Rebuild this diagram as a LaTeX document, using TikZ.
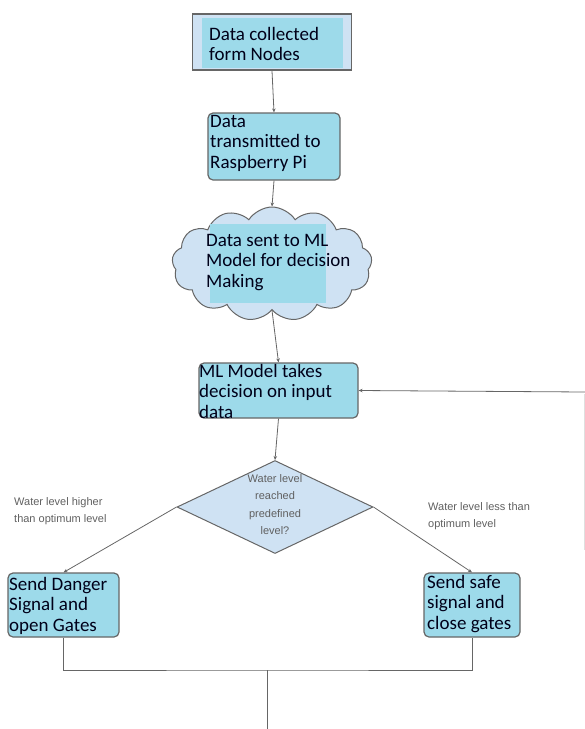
\documentclass[tikz,border=0pt]{standalone}
\usepackage{fontspec}
\setmainfont{Carlito}
\newfontfamily\notefont{Liberation Sans}
\usetikzlibrary{shapes.geometric,shapes.symbols,arrows.meta}
\definecolor{boxcyan}{HTML}{9DDAEA}
\definecolor{palecyan}{HTML}{CFE2F3}
\definecolor{edgegray}{HTML}{666666}

\begin{document}
\begin{tikzpicture}[x=1pt,y=-1pt,
    box/.style={draw=edgegray, line width=1.2pt, fill=boxcyan, rounded corners=5pt, inner sep=0pt},
    txt/.style={anchor=north west, align=left, inner sep=0pt, font=\fontsize{19}{20.5}\selectfont, text=black!90!blue},
    note/.style={anchor=north west, align=left, inner sep=0pt, font=\notefont\fontsize{11}{17.5}\selectfont, text=gray!75!black},
    flow/.style={edgegray, line width=0.8pt},
    tip/.style={flow, -{Stealth[length=4pt,width=3.5pt]}}]
  \useasboundingbox (0,0) rectangle (585,729);

	% Data collected
	\node[draw=edgegray, line width=1.5pt, fill=palecyan, minimum width=159pt, minimum height=56pt, inner sep=0pt] (collect) at (272,42) {};
	\fill[boxcyan] (202,18) rectangle (343,68);
	\node[txt] (collecttxt) at (209,27) {Data collected\\form Nodes};

	% Raspberry Pi
	\node[box, minimum width=132pt, minimum height=67pt] (transmit) at (274,146.5) {};
	\node[txt] (transmittxt) at (210,115) {Data\\transmitted to\\Raspberry Pi};

	% ML cloud
	\node[cloud, cloud puffs=13, cloud puff arc=115, draw=edgegray, line width=1pt, fill=palecyan, minimum width=200pt, minimum height=114pt, inner sep=0pt] (cloud) at (272,264) {};
	\fill[boxcyan] (210,224) rectangle (326,303);
	\node[txt] (cloudtxt) at (206,234) {Data sent to ML\\Model for decision\\Making};

	% ML decision
	\node[box, minimum width=159pt, minimum height=55pt] (mlmodel) at (278.5,390.5) {};
	\node[txt] (mltxt) at (199,364) {ML Model takes\\decision on input\\data};

	% Water level check
	\node[diamond, draw=edgegray, line width=1pt, fill=palecyan, minimum width=196pt, minimum height=93pt, inner sep=0pt] (check) at (275,507) {};
	\node[note, anchor=north, align=center] (checktxt) at (275,474) {Water level\\reached\\predefined\\level?};

	% Branch labels
	\node[note] (hightxt) at (14,497) {Water level higher\\than optimum level};
	\node[note] (lowtxt) at (428,502) {Water level less than\\optimum level};

	% Outcomes
	\node[box, minimum width=111pt, minimum height=64pt] (danger) at (63.5,605) {};
	\node[txt] (dangertxt) at (9,577) {Send Danger\\Signal and\\open Gates};
	\node[box, minimum width=96pt, minimum height=64pt] (safe) at (472,605) {};
	\node[txt] (safetxt) at (427,575) {Send safe\\signal and\\close gates};

	% Connectors
	\draw[tip] (collect.south) -- (transmit.north);
	\draw[tip] (transmit.south) -- (cloud.north);
	\draw[tip] (cloud.south) -- (mlmodel.north);
	\draw[tip] (mlmodel.south) -- (check.north);
	\draw[tip] (check.west) -- (danger.north);
	\draw[tip] (check.east) -- (safe.north);

	% Feedback line
	\coordinate (back) at (585,392);
	\draw[tip] (back) -- (mlmodel.east);
	\draw[gray!25, line width=0.8pt] (584,394) -- (584,550);

	% Merge
	\coordinate (merge) at (267,670);
	\coordinate (out) at (267,729);
	\draw[flow] (danger.south) |- (merge) -| (safe.south);
	\draw[flow] (merge) -- (out);

\end{tikzpicture}
\end{document}
